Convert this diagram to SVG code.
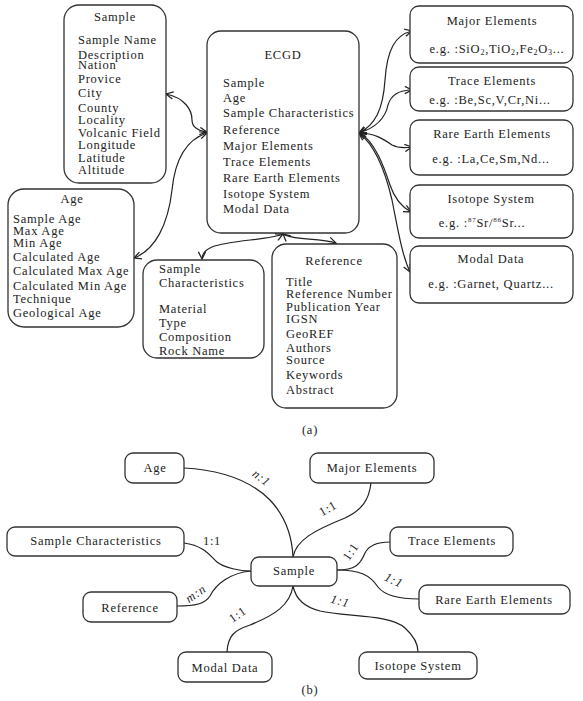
<svg xmlns="http://www.w3.org/2000/svg" width="583" height="701" viewBox="0 0 583 701">
<style>
.box{fill:#fff;stroke:#333;stroke-width:1.3}
.t{font-family:"Liberation Serif","Times New Roman",serif;font-size:12.5px;letter-spacing:0.75px;fill:#222}
.c{text-anchor:middle}
.i{font-style:italic}
.con{fill:none;stroke:#222;stroke-width:1.2}
.arr{marker-start:url(#ah);marker-end:url(#ah)}
</style>
<defs>
<marker id="ah" viewBox="0 0 10 10" refX="9" refY="5" markerWidth="9" markerHeight="9" markerUnits="userSpaceOnUse" orient="auto-start-reverse">
<path d="M1,1 L9,5 L1,9" fill="none" stroke="#222" stroke-width="1.4"/>
</marker>
</defs>
<rect width="583" height="701" fill="#fff"/>

<g id="connectors">
<path class="con arr" d="M166,94 C185,98 192,110 192,120 C192,128 200,131 207,132"/>
<path class="con arr" d="M207,133 C185,140 175,160 172,190 C168,225 155,250 134,258"/>
<path class="con arr" d="M283,234 C270,240 230,240 212,247 C205,250 202,254 202,259"/>
<path class="con arr" d="M283,234 C290,240 320,238 336,243"/>
<path class="con arr" d="M359,133 C375,125 383,110 385,80 C387,50 395,35 412,31"/>
<path class="con arr" d="M359,133 C375,128 385,120 388,105 C391,95 400,90 412,90"/>
<path class="con arr" d="M359,133 C375,133 385,140 392,145 C398,148 405,148 412,147"/>
<path class="con arr" d="M359,133 C375,140 385,170 390,185 C395,200 402,207 411,212"/>
<path class="con arr" d="M359,133 C375,145 385,170 392,200 C398,230 402,255 410,272"/>

<path class="con" d="M184,468 C220,470 250,480 270,500 C285,516 292,535 293,557"/>
<path class="con" d="M371,483 C369,500 362,510 345,518 C315,530 296,540 293,557"/>
<path class="con" d="M184,543 C205,546 210,556 217,562 C225,568 240,571 251,571"/>
<path class="con" d="M177,606 C195,606 205,604 210,596 C216,584 230,573 251,571"/>
<path class="con" d="M227,652 C228,635 235,630 250,625 C275,615 290,605 293,586"/>
<path class="con" d="M337,570 C355,570 360,565 365,553 C369,545 378,542 390,542"/>
<path class="con" d="M337,570 C360,570 370,575 378,587 C385,596 400,599 419,599"/>
<path class="con" d="M293,586 C296,600 305,607 320,611 C345,617 390,614 405,628 C415,637 418,645 418,652"/>

<text class="t i c" transform="translate(259,481) rotate(38)">n:1</text>
<text class="t c" x="212" y="545">1:1</text>
<text class="t i c" transform="translate(198,597) rotate(-35)">m:n</text>
<text class="t c" transform="translate(240,618) rotate(-35)">1:1</text>
<text class="t c" transform="translate(330,512) rotate(-30)">1:1</text>
<text class="t c" transform="translate(354,554) rotate(-55)">1:1</text>
<text class="t i c" transform="translate(392,584) rotate(25)">1:1</text>
<text class="t i c" transform="translate(339,605) rotate(15)">1:1</text>
</g>

<g id="a-sample">
<rect class="box" x="64" y="5" width="102" height="178" rx="15"/>
<text class="t c" x="115" y="21">Sample</text>
<text class="t" x="78" y="44">Sample Name</text>
<text class="t" x="78" y="59">Description</text>
<text class="t" x="78" y="69">Nation</text>
<text class="t" x="78" y="83">Provice</text>
<text class="t" x="78" y="97">City</text>
<text class="t" x="78" y="112">County</text>
<text class="t" x="78" y="124">Locality</text>
<text class="t" x="78" y="137">Volcanic Field</text>
<text class="t" x="78" y="149">Longitude</text>
<text class="t" x="78" y="162">Latitude</text>
<text class="t" x="78" y="174">Altitude</text>
</g>

<g id="a-age">
<rect class="box" x="8" y="189" width="126" height="138" rx="16"/>
<text class="t c" x="72" y="203">Age</text>
<text class="t" x="13" y="223">Sample Age</text>
<text class="t" x="13" y="235">Max Age</text>
<text class="t" x="13" y="247">Min Age</text>
<text class="t" x="13" y="261">Calculated Age</text>
<text class="t" x="13" y="275">Calculated Max Age</text>
<text class="t" x="13" y="290">Calculated Min Age</text>
<text class="t" x="13" y="303">Technique</text>
<text class="t" x="13" y="317">Geological Age</text>
</g>

<g id="a-ecgd">
<rect class="box" x="207" y="31" width="152" height="202" rx="14"/>
<text class="t c" x="283" y="59">ECGD</text>
<text class="t" x="223" y="87">Sample</text>
<text class="t" x="223" y="102">Age</text>
<text class="t" x="223" y="117">Sample Characteristics</text>
<text class="t" x="223" y="134">Reference</text>
<text class="t" x="223" y="150">Major Elements</text>
<text class="t" x="223" y="166">Trace Elements</text>
<text class="t" x="223" y="182">Rare Earth Elements</text>
<text class="t" x="223" y="198">Isotope System</text>
<text class="t" x="223" y="213">Modal Data</text>
</g>

<g id="a-samplechar">
<rect class="box" x="143" y="260" width="121" height="98" rx="14"/>
<text class="t" x="159" y="273">Sample</text>
<text class="t" x="159" y="287">Characteristics</text>
<text class="t" x="159" y="313">Material</text>
<text class="t" x="159" y="327">Type</text>
<text class="t" x="159" y="341">Composition</text>
<text class="t" x="159" y="355">Rock Name</text>
</g>

<g id="a-reference">
<rect class="box" x="272" y="244" width="125" height="164" rx="14"/>
<text class="t c" x="334" y="265">Reference</text>
<text class="t" x="286" y="286">Title</text>
<text class="t" x="286" y="298">Reference Number</text>
<text class="t" x="286" y="311">Publication Year</text>
<text class="t" x="286" y="323">IGSN</text>
<text class="t" x="286" y="338">GeoREF</text>
<text class="t" x="286" y="352">Authors</text>
<text class="t" x="286" y="364">Source</text>
<text class="t" x="286" y="379">Keywords</text>
<text class="t" x="286" y="394">Abstract</text>
</g>

<g id="a-major">
<rect class="box" x="410" y="6" width="163" height="57" rx="9"/>
<text class="t c" x="492" y="25">Major Elements</text>
<text class="t c" x="497" y="53">e.g. :SiO<tspan font-size="8" dy="2">2</tspan><tspan dy="-2">,TiO</tspan><tspan font-size="8" dy="2">2</tspan><tspan dy="-2">,Fe</tspan><tspan font-size="8" dy="2">2</tspan><tspan dy="-2">O</tspan><tspan font-size="8" dy="2">3</tspan><tspan dy="-2">...</tspan></text>
</g>

<g id="a-trace">
<rect class="box" x="410" y="67" width="163" height="44" rx="9"/>
<text class="t c" x="492" y="85">Trace Elements</text>
<text class="t c" x="490" y="104">e.g. :Be,Sc,V,Cr,Ni...</text>
</g>

<g id="a-rare">
<rect class="box" x="410" y="120" width="163" height="55" rx="9"/>
<text class="t c" x="492" y="138">Rare Earth Elements</text>
<text class="t c" x="491" y="163">e.g. :La,Ce,Sm,Nd...</text>
</g>

<g id="a-isotope">
<rect class="box" x="410" y="185" width="163" height="53" rx="9"/>
<text class="t c" x="491" y="203">Isotope System</text>
<text class="t c" x="482" y="227">e.g. :<tspan font-size="7" dy="-5">87</tspan><tspan dy="5">Sr/</tspan><tspan font-size="7" dy="-5">86</tspan><tspan dy="5">Sr...</tspan></text>
</g>

<g id="a-modal">
<rect class="box" x="410" y="246" width="163" height="57" rx="9"/>
<text class="t c" x="491" y="263">Modal Data</text>
<text class="t c" x="491" y="288">e.g. :Garnet, Quartz...</text>
</g>

<text class="t c" x="310" y="434">(a)</text>

<g id="b-age">
<rect class="box" x="125" y="453" width="59" height="30" rx="8"/>
<text class="t c" x="155" y="472">Age</text>
</g>
<g id="b-major">
<rect class="box" x="310" y="453" width="124" height="30" rx="8"/>
<text class="t c" x="372" y="472">Major Elements</text>
</g>
<g id="b-samplechar">
<rect class="box" x="7" y="527" width="177" height="29" rx="8"/>
<text class="t c" x="96" y="545">Sample Characteristics</text>
</g>
<g id="b-trace">
<rect class="box" x="390" y="527" width="123" height="29" rx="8"/>
<text class="t c" x="452" y="545">Trace Elements</text>
</g>
<g id="b-sample">
<rect class="box" x="251" y="557" width="86" height="29" rx="8"/>
<text class="t c" x="294" y="575">Sample</text>
</g>
<g id="b-reference">
<rect class="box" x="83" y="592" width="94" height="30" rx="8"/>
<text class="t c" x="130" y="612">Reference</text>
</g>
<g id="b-rare">
<rect class="box" x="419" y="585" width="151" height="29" rx="8"/>
<text class="t c" x="494" y="604">Rare Earth Elements</text>
</g>
<g id="b-modal">
<rect class="box" x="178" y="652" width="94" height="30" rx="8"/>
<text class="t c" x="225" y="672">Modal Data</text>
</g>
<g id="b-isotope">
<rect class="box" x="359" y="652" width="118" height="27" rx="8"/>
<text class="t c" x="418" y="670">Isotope System</text>
</g>

<text class="t c" x="310" y="694">(b)</text>
</svg>
